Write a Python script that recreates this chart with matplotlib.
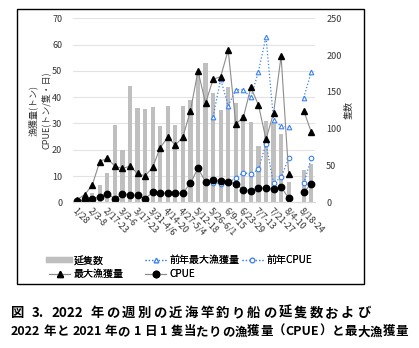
import re
import numpy as np
import matplotlib
matplotlib.use("Agg")
from matplotlib import pyplot as plt
from matplotlib.patches import Rectangle
from matplotlib.lines import Line2D

plt.rcParams['font.family'] = ['Noto Sans CJK JP', 'DejaVu Sans']

nan = np.nan

# weekly tick labels (every other week is labelled)
tick_labels = ['1/28', '2/3-8', '2/17-23', '3/3-6', '3/17-23', '3/31-4/6', '4/14-20',
               '4/27-5/4', '5/12-18', '5/26-6/1', '6/9-15', '6/23-29', '7/7-13',
               '7/21-27', '8/4-10', '8/18-24']

# 延隻数 (right axis)
boats = [2, 5, 13, 23.5, 40, 105, 71, 158, 128.5, 127, 129.5, 104, 131, 105.5, 131, 139.5,
         175, 189, 149, 126, 157, 135, 118, 109, 77, 110, 108, 93, 28, nan, 44, 52]

# 最大漁獲量 2022 (tons)
max_catch = [1.0, 2.9, 6.5, 15.5, 16.8, 13.7, 12.9, 13.7, 11.0, 10.0, 13.3, 20.8, 24.7, 21.8,
             24.8, 34.8, 50.0, 37.7, 46.8, 47.8, 57.9, 29.8, 32.3, 43.7, 37.0, 24.0, 33.8,
             55.6, 10.8, nan, 34.8, 26.7]

# CPUE 2022 (tons/boat/day)
cpue = [0.4, 0.9, 1.4, 2.1, 3.3, 1.4, 3.0, 2.9, 2.6, 1.4, 3.8, 3.5, 3.4, 3.4, 3.5, 7.3,
        12.9, 7.8, 8.3, 8.0, 7.8, 7.0, 4.7, 4.4, 5.4, 5.4, 5.0, 5.8, 1.6, nan, 4.0, 7.0]

# 前年最大漁獲量 2021 (tons)
prev_max = [nan] * 18 + [32.6, 46.9, 36.7, 42.8, 42.8, 39.9, 49.7, 63.0, 31.4, 28.9, 28.6,
                         nan, 39.8, 49.7]

# 前年CPUE 2021
prev_cpue = [nan] * 18 + [7.5, 7.0, 7.3, 9.4, 11.3, 10.7, 12.5, 22.3, 7.2, 9.5, 16.7,
                          nan, 7.2, 16.7]

caption1 = '図 3. 2022 年の週別の近海竿釣り船の延隻数および'
caption2 = '2022 年と 2021 年の 1 日 1 隻当たりの漁獲量（CPUE）と最大漁獲量'


def spaced_text(fig, s, x0, x1, y, **kw):
    # split into ascii runs / single wide chars and spread them over x0..x1 (pixels)
    tokens = re.findall(r'[!-~]+| |[^ -~]', s)
    r = fig.canvas.get_renderer()
    widths = []
    for tok in tokens:
        if tok == ' ':
            t = fig.text(0, 0, 'a a', **kw)
            w = t.get_window_extent(r).width
            t.remove()
            t = fig.text(0, 0, 'aa', **kw)
            w -= t.get_window_extent(r).width
        else:
            t = fig.text(0, 0, tok, **kw)
            w = t.get_window_extent(r).width
        t.remove()
        widths.append(w)
    extra = (x1 - x0 - sum(widths)) / (len(tokens) - 1)
    W = fig.bbox.width
    x = x0
    for tok, w in zip(tokens, widths):
        if tok != ' ':
            fig.text(x / W, y, tok, ha='left', va='center', **kw)
        x += w + extra


x = np.arange(len(boats))
blue = '#3b82f0'

fig = plt.figure(figsize=(4.19, 3.48), dpi=100)
ax = fig.add_axes([0.175, 0.4187, 0.577, 0.5287])
ax2 = ax.twinx()
ax.set_zorder(ax2.get_zorder() + 1)
ax.patch.set_visible(False)

ax2.bar(x, boats, width=0.55, color='#bfbfbf', zorder=2)
ax2.set_ylim(0, 250)
ax2.set_yticks(np.arange(0, 251, 50))

l_pmax, = ax.plot(x, prev_max, ':', color=blue, lw=0.9, marker='^', ms=3.3,
                  mfc='white', mec=blue, mew=0.8)
l_pcpue, = ax.plot(x, prev_cpue, ':', color=blue, lw=0.9, marker='o', ms=3.3,
                   mfc='white', mec=blue, mew=0.8)
l_max, = ax.plot(x, max_catch, '-', color='#8c8c8c', lw=0.8, marker='^', ms=4.6,
                 mfc='black', mec='black')
l_cpue, = ax.plot(x, cpue, '-', color='#8c8c8c', lw=0.8, marker='o', ms=4.6,
                  mfc='black', mec='black')

ax.set_ylim(0, 70)
ax.set_yticks(np.arange(0, 71, 10))
ax.set_xlim(-0.5, len(boats) - 0.5)
for y in np.arange(10, 71, 10):
    ax2.axhline(y * 250 / 70, color='#e3e3e3', lw=0.8, zorder=0)

for a in (ax, ax2):
    for s in ('left', 'right', 'top'):
        a.spines[s].set_visible(False)
    a.spines['bottom'].set_color('#d9d9d9')
    a.tick_params(length=0, labelsize=6.5, labelcolor='#333333')
ax.tick_params(axis='y', pad=8)
ax2.yaxis.set_ticks_position('right')
ax2.tick_params(axis='y', which='both', labelright=True, labelleft=False, pad=8)

ax.set_xticks(x[::2])
ax.set_xticklabels(tick_labels, rotation=-45, ha='left', va='top',
                   rotation_mode='anchor', fontsize=6.5)
ax.tick_params(axis='x', pad=3)

ax.set_ylabel('漁獲量(トン)\nCPUE(トン/隻・日)', fontsize=6.5, color='#333333',
              labelpad=0, linespacing=1.6)
ax2.set_ylabel('隻数', fontsize=6.5, color='#333333', labelpad=2)

# legend laid out as three fixed columns
bar_handle = Line2D([], [], color='#bfbfbf', lw=4.5)
leg_kw = dict(frameon=False, fontsize=7.2, handlelength=2.1, handletextpad=0.33,
              labelspacing=0.38, borderpad=0, borderaxespad=0)
legend_cols = [([bar_handle, l_max], ['延隻数', '最大漁獲量'], 49, 267.2),
               ([l_pmax, l_cpue], ['前年最大漁獲量', 'CPUE'], 145, 267.2),
               ([l_pcpue], ['前年CPUE'], 241.7, 260)]
for hs, ls, px, py in legend_cols:
    fig.add_artist(fig.legend(hs, ls, loc='center left',
                              bbox_to_anchor=(px / 419, 1 - py / 348), **leg_kw))

fig.add_artist(Rectangle((17.3 / 419, 1 - 284.3 / 348), (364 - 17.3) / 419,
                         (284.3 - 9.3) / 348, transform=fig.transFigure,
                         fill=False, ec='black', lw=1.0))

spaced_text(fig, caption1, 11, 370, 0.1006, fontsize=9.6, fontweight='bold')
spaced_text(fig, caption2, 11, 408, 0.0468, fontsize=9, fontweight='bold')

fig.savefig('out.png', dpi=100)
